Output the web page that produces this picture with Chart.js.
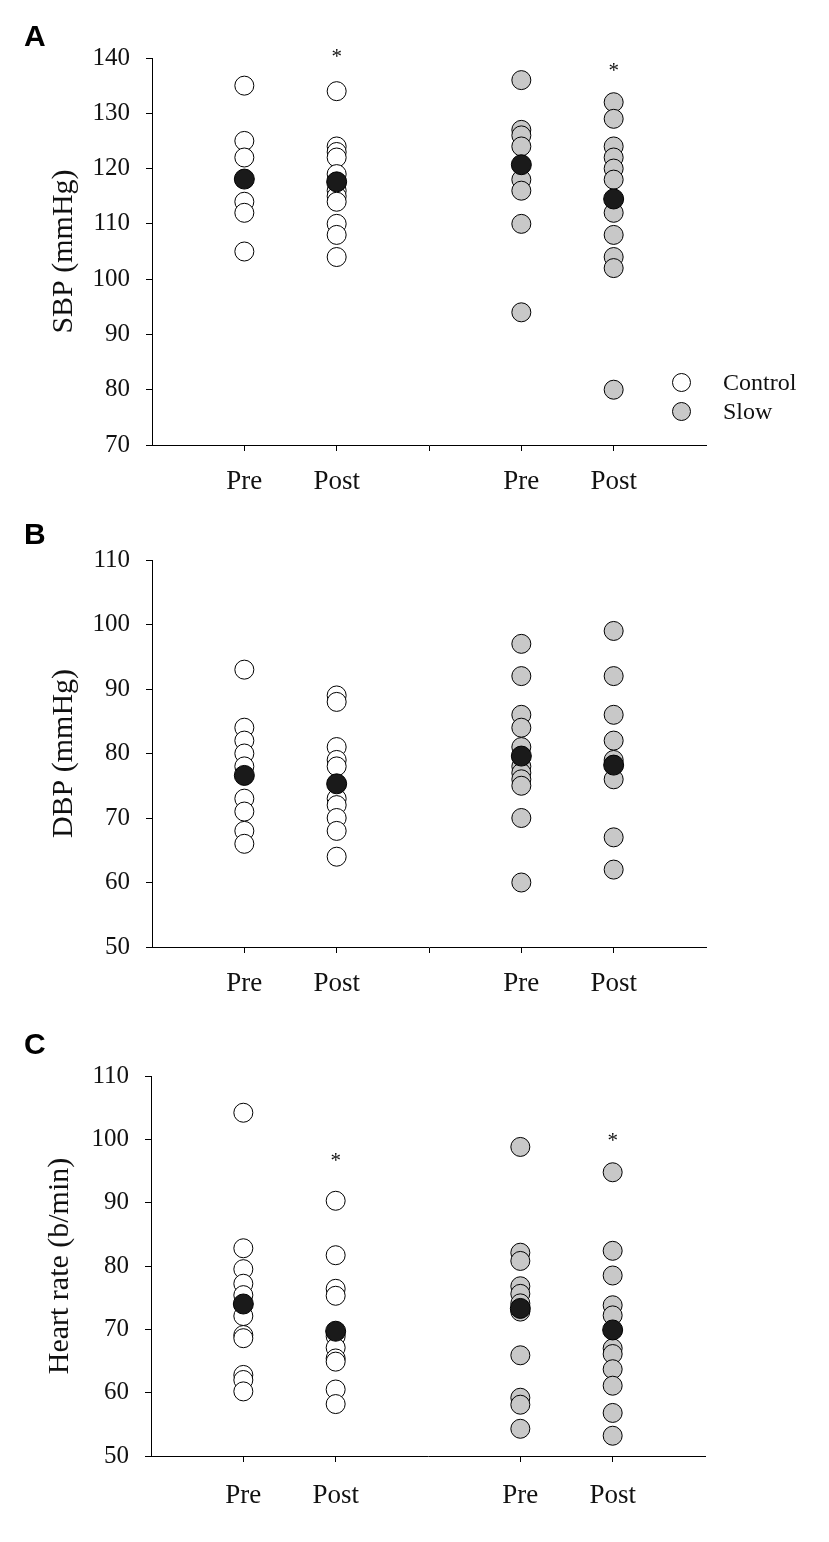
<!DOCTYPE html>
<html>
<head>
<meta charset="utf-8">
<script src="https://cdn.jsdelivr.net/npm/chart.js@4.4.1/dist/chart.umd.min.js"></script>
<style>
  body { margin: 0; background: #fff; }
  #page { position: relative; width: 829px; height: 1542px; overflow: hidden; }
  .panel { position: absolute; left: 0; }
  .letter { position: absolute; left: 24px; font: bold 30px "Liberation Sans", Arial, sans-serif; line-height: 30px; color: #000; }
  .dot { position: absolute; width: 17px; height: 17px; border: 1px solid #000; border-radius: 50%; }
  .legtext { position: absolute; left: 723px; font: 24px "Liberation Serif", "Times New Roman", serif; line-height: 24px; color: #111; }
</style>
</head>
<body>
<div id="page">
  <div class="panel" style="top:0"><canvas id="chartA" width="829" height="500"></canvas></div>
  <div class="panel" style="top:500px"><canvas id="chartB" width="829" height="510"></canvas></div>
  <div class="panel" style="top:1010px"><canvas id="chartC" width="829" height="532"></canvas></div>

  <div class="letter" style="top:21px">A</div>
  <div class="letter" style="top:519px">B</div>
  <div class="letter" style="top:1029px">C</div>

  <div class="dot" style="left:672px;top:373px;background:#fff"></div>
  <div class="legtext" style="top:370px">Control</div>
  <div class="dot" style="left:672px;top:402px;background:#c8c8c8"></div>
  <div class="legtext" style="top:399px">Slow</div>
</div>

<script>
// x positions 1..5, the middle one is an empty gap between groups
const groupLabels = ["Pre", "Post", "", "Pre", "Post"];

// A: systolic blood pressure (mmHg)
const sbpControlPre = [135, 125, 122, 114, 112, 105];
const sbpControlPost = [134, 124, 123, 122, 119, 116, 115, 114, 110, 108, 104];
const sbpSlowPre = [136, 127, 126, 124, 118, 116, 110, 94];
const sbpSlowPost = [132, 129, 124, 122, 120, 118, 112, 108, 104, 102, 80];
const sbpMeans = [118.1, 117.6, 120.7, 114.5];
const sbpStars = [[2, 141.0], [5, 138.6]];

// B: diastolic blood pressure (mmHg)
const dbpControlPre = [93, 84, 82, 80, 78, 73, 71, 68, 66];
const dbpControlPost = [89, 88, 81, 79, 78, 73, 72, 70, 68, 64];
const dbpSlowPre = [97, 92, 86, 84, 81, 78, 77, 76, 75, 70, 60];
const dbpSlowPost = [99, 92, 86, 82, 79, 76, 67, 62];
const dbpMeans = [76.6, 75.3, 79.6, 78.2];

// C: heart rate (b/min)
const hrControlPre = [104.2, 82.8, 79.5, 77.2, 75.4, 72.1, 69.1, 68.6, 62.8, 62.0, 60.2];
const hrControlPost = [90.3, 81.7, 76.4, 75.3, 68.9, 67.1, 65.4, 64.9, 60.5, 58.2];
const hrSlowPre = [98.8, 82.1, 80.8, 76.8, 75.6, 74.1, 72.8, 65.9, 59.2, 58.1, 54.3];
const hrSlowPost = [94.8, 82.4, 78.5, 73.8, 72.2, 67.0, 66.1, 63.7, 61.1, 56.8, 53.2];
const hrMeans = [74.0, 69.7, 73.3, 69.9];
const hrStars = [[2, 97.4], [5, 100.5]];

const CONTROL_FILL = "#ffffff";
const SLOW_FILL = "#c8c8c8";
const MEAN_FILL = "#1a1a1a";
const SERIF = '"Liberation Serif", "Times New Roman", serif';

const starPlugin = {
  id: "stars",
  afterDatasetsDraw(chart, args, opts) {
    const { ctx, scales } = chart;
    ctx.save();
    ctx.font = "21px " + SERIF;
    ctx.textAlign = "center";
    ctx.textBaseline = "alphabetic";
    ctx.fillStyle = "#111";
    (opts.points || []).forEach(([sx, sy]) => {
      ctx.fillText("*", scales.x.getPixelForValue(sx), scales.y.getPixelForValue(sy) + 11);
    });
    ctx.restore();
  },
};

function toPoints(pos, values) {
  return values.map((v) => ({ x: pos, y: v }));
}

function groupSet(pos, values, fill) {
  return {
    data: toPoints(pos, values),
    backgroundColor: fill,
    borderColor: "#000",
    borderWidth: 1,
    pointRadius: 9.5,
    order: 1,
  };
}

function makePanel(id, p) {
  const means = p.means.map((v, i) => ({ x: [1, 2, 4, 5][i], y: v }));
  new Chart(document.getElementById(id), {
    type: "scatter",
    data: {
      datasets: [
        groupSet(1, p.controlPre, CONTROL_FILL),
        groupSet(2, p.controlPost, CONTROL_FILL),
        groupSet(4, p.slowPre, SLOW_FILL),
        groupSet(5, p.slowPost, SLOW_FILL),
        {
          data: means,
          backgroundColor: MEAN_FILL,
          borderColor: "#000",
          borderWidth: 1,
          pointRadius: 10,
          order: 0,
        },
      ],
    },
    plugins: [starPlugin],
    options: {
      responsive: false,
      animation: false,
      layout: { padding: { top: p.top, right: p.right, left: 0, bottom: 0 } },
      plugins: {
        legend: { display: false },
        tooltip: { enabled: false },
        stars: { points: p.stars || [] },
      },
      scales: {
        x: {
          type: "linear",
          min: 0,
          max: 6,
          afterBuildTicks: (scale) => {
            scale.ticks = groupLabels
              .map((label, i) => ({ value: i + 1, label }))
              .filter((t) => p.midTick || t.label !== "");
          },
          afterFit: (scale) => { scale.height = p.xHeight; },
          ticks: {
            callback: (value) => groupLabels[value - 1] || "",
            font: { family: SERIF, size: 27 },
            color: "#111",
            padding: p.xPad,
            maxRotation: 0,
            autoSkip: false,
          },
          grid: { drawOnChartArea: false, drawTicks: true, tickLength: 6, color: "#000" },
          border: { display: true, color: "#000", width: 1 },
        },
        y: {
          min: p.yMin,
          max: p.yMax,
          afterFit: (scale) => { scale.width = p.left; },
          ticks: {
            stepSize: 10,
            font: { family: SERIF, size: 25 },
            color: "#111",
            padding: 16,
          },
          grid: { drawOnChartArea: false, drawTicks: true, tickLength: 6, color: "#000" },
          border: { display: true, color: "#000", width: 1 },
          title: {
            display: true,
            text: p.title,
            font: { family: SERIF, size: 30 },
            color: "#111",
            padding: { top: p.titleGap, bottom: 0 },
          },
        },
      },
    },
  });
}

makePanel("chartA", {
  controlPre: sbpControlPre, controlPost: sbpControlPost,
  slowPre: sbpSlowPre, slowPost: sbpSlowPost, means: sbpMeans, stars: sbpStars,
  yMin: 70, yMax: 140, title: "SBP (mmHg)",
  top: 58, right: 123, left: 152, xHeight: 55, titleGap: 46, midTick: true, xPad: 15,
});

makePanel("chartB", {
  controlPre: dbpControlPre, controlPost: dbpControlPost,
  slowPre: dbpSlowPre, slowPost: dbpSlowPost, means: dbpMeans,
  yMin: 50, yMax: 110, title: "DBP (mmHg)",
  top: 60, right: 123, left: 152, xHeight: 63, titleGap: 46, midTick: true, xPad: 15,
});

makePanel("chartC", {
  controlPre: hrControlPre, controlPost: hrControlPost,
  slowPre: hrSlowPre, slowPost: hrSlowPost, means: hrMeans, stars: hrStars,
  yMin: 50, yMax: 110, title: "Heart rate (b/min)",
  top: 66, right: 124, left: 151, xHeight: 86, titleGap: 42, midTick: false, xPad: 18,
});
</script>
</body>
</html>
